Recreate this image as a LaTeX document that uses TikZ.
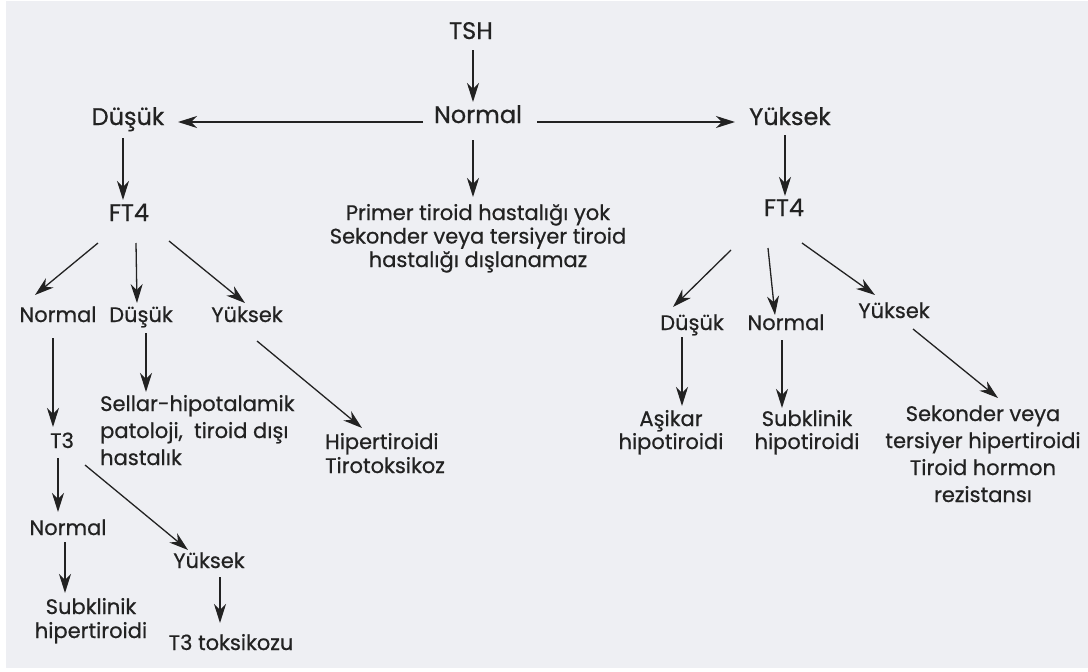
\documentclass[tikz,border=0pt]{standalone}
\usepackage{fontspec}
\setmainfont{Poppins}[FakeBold=0.6]
\usetikzlibrary{arrows.meta,calc}
\definecolor{bg}{HTML}{EEEFF3}
\definecolor{ink}{HTML}{222222}
\begin{document}
\begin{tikzpicture}[x=1pt,y=-1pt,
  big/.style={anchor=base, inner sep=0pt, text=ink, font=\fontsize{24}{28}\selectfont},
  lbl/.style={anchor=base, inner sep=0pt, text=ink, font=\fontsize{21}{24}\selectfont, align=center},
  wide/.style={font=\fontsize{21}{27}\selectfont},
  arr/.style={draw=ink, line width=1.3pt, -{Stealth[length=19pt,width=12pt,inset=6pt]}}]
\useasboundingbox (0,0) rectangle (1088,672);
\fill[white] (0,0) rectangle (1088,672);
\fill[bg] (6,1) rectangle (1088,668);
% nodes (multi-line nodes are placed by the baseline of their last line)
\node[big] (tsh) at (471,39) {TSH};
\node[big] (n0) at (478,123) {Normal};
\node[big] (d0) at (128,125) {Düşük};
\node[big] (y0) at (790,125) {Yüksek};
\node[big] (fl) at (129,221) {FT4};
\node[big] (fr) at (784,216) {FT4};
\node[lbl, font=\fontsize{21}{23.5}\selectfont] (prim) at (478,267) {Primer tiroid hastalığı yok\\Sekonder veya tersiyer tiroid\\hastalığı dışlanamaz};
\node[lbl] (ln) at (58,322) {Normal};
\node[lbl] (ld) at (141,322) {Düşük};
\node[lbl] (ly) at (247,322) {Yüksek};
\node[lbl, wide, align=left, anchor=base west] (sel) at (100,465) {Sellar-hipotalamik\\patoloji,\ \ tiroid dışı\\hastalık};
\node[lbl, align=left, anchor=base west] (hip) at (325,473) {Hipertiroidi\\Tirotoksikoz};
\node[lbl] (t3) at (62,448) {T3};
\node[lbl] (tn) at (68,535) {Normal};
\node[lbl] (ty) at (209,568) {Yüksek};
\node[lbl] (shp) at (91,638) {Subklinik\\hipertiroidi};
\node[lbl] (tt) at (231,650) {T3 toksikozu};
\node[lbl] (rd) at (692,330) {Düşük};
\node[lbl] (rn) at (786,330) {Normal};
\node[lbl] (ry) at (894,318) {Yüksek};
\node[lbl, font=\fontsize{21}{23}\selectfont] (ash) at (671,449) {Aşikar\\hipotiroidi};
\node[lbl, font=\fontsize{21}{23}\selectfont] (shpo) at (807,449) {Subklinik\\hipotiroidi};
\node[lbl, wide] (sek) at (983,502) {Sekonder veya\\tersiyer hipertiroidi\\Tiroid hormon\\rezistansı};
% connectors
\draw[arr] ($(tsh.base)+(2,11)$) -- ($(n0.base)+(-5,-21)$);
\draw[arr] ($(n0.base)+(-55,-1)$) -- ($(d0.base)+(50,-3)$);
\draw[arr] ($(n0.base)+(59,-1)$) -- ($(y0.base)+(-55,-3)$);
\draw[arr] ($(n0.base)+(-5,17)$) -- ($(prim.base)+(-5,-70)$);
\draw[arr] ($(d0.base)+(-5,13)$) -- ($(fl.base)+(-6,-21)$);
\draw[arr] ($(fl.base)+(-31,22)$) -- ($(ln.base)+(-23,-27)$);
\draw[arr] ($(fl.base)+(7,22)$) -- ($(ld.base)+(-4,-19)$);
\draw[arr] ($(fl.base)+(40,20)$) -- ($(ly.base)+(-2,-19)$);
\draw[arr] ($(ln.base)+(-5,16)$) -- ($(t3.base)+(-9,-21)$);
\draw[arr] ($(ld.base)+(5,11)$) -- ($(sel.base west)+(46,-73)$);
\draw[arr] ($(ly.base)+(10,19)$) -- ($(hip.base west)+(37,-45)$);
\draw[arr] ($(t3.base)+(-4,10)$) -- ($(tn.base)+(-10,-23)$);
\draw[arr] ($(t3.base)+(23,17)$) -- ($(ty.base)+(-21,-18)$);
\draw[arr] ($(tn.base)+(-3,7)$) -- ($(shp.base)+(-26,-45)$);
\draw[arr] ($(ty.base)+(11,9)$) -- ($(tt.base)+(-11,-27)$);
\draw[arr] ($(y0.base)+(-5,10)$) -- ($(fr.base)+(1,-20)$);
\draw[arr] ($(fr.base)+(-53,34)$) -- ($(rd.base)+(-19,-23)$);
\draw[arr] ($(fr.base)+(-16,32)$) -- ($(rn.base)+(-11,-15)$);
\draw[arr] ($(fr.base)+(18,27)$) -- ($(ry.base)+(-19,-23)$);
\draw[arr] ($(rd.base)+(-10,7)$) -- ($(ash.base)+(11,-43)$);
\draw[arr] ($(rn.base)+(-4,10)$) -- ($(shpo.base)+(-25,-41)$);
\draw[arr] ($(ry.base)+(19,11)$) -- ($(sek.base)+(15,-104)$);
\end{tikzpicture}
\end{document}
